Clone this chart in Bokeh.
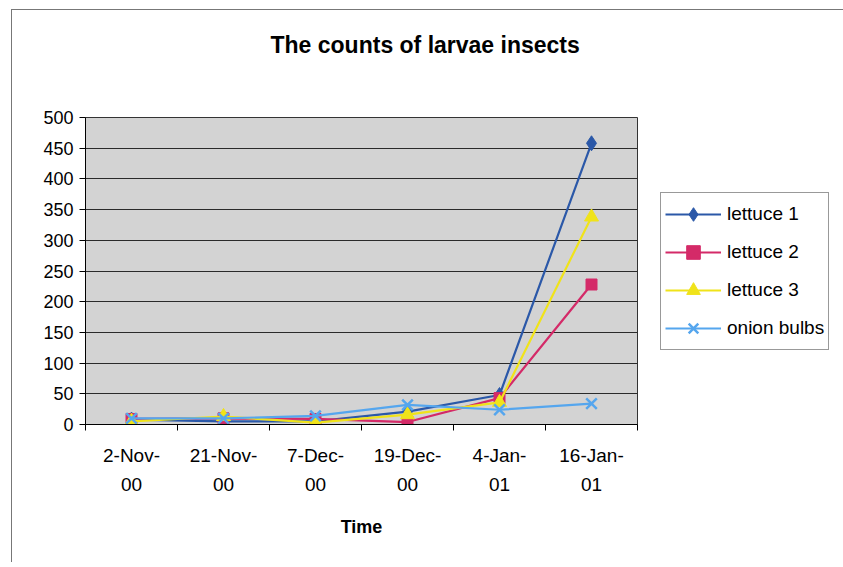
from bokeh.plotting import figure
from bokeh.models import (LinearAxis, FixedTicker, Legend, LegendItem, Range1d, Title)
from bokeh.embed import file_html
from bokeh.resources import INLINE

# ---- data ----
dates_line1 = ["2-Nov-", "21-Nov-", "7-Dec-", "19-Dec-", "4-Jan-", "16-Jan-"]
dates_line2 = ["00", "00", "00", "00", "01", "01"]
y_ticks = [0, 50, 100, 150, 200, 250, 300, 350, 400, 450, 500]
lettuce1 = [8, 5, 5, 21, 48, 458]
lettuce2 = [9, 10, 9, 4, 43, 228]
lettuce3 = [5, 13, 3, 16, 36, 338]
onion = [10, 10, 14, 32, 24, 34]
series_names = ["lettuce 1", "lettuce 2", "lettuce 3", "onion bulbs"]
title_text = "The counts of larvae insects"

FONT = "Liberation Sans"
n = len(dates_line1)
xs = [i + 0.5 for i in range(n)]

p = figure(frame_width=552, frame_height=307, output_backend="svg", toolbar_location=None,
           x_range=Range1d(0, n), y_range=Range1d(0, 500),
           x_axis_location=None,
           min_border_left=73, min_border_right=204, min_border_top=107,
           min_border_bottom=138)
p.styles = {"border-left": "1px solid #777", "border-top": "1px solid #777",
            "margin-left": "11px", "margin-top": "9px"}

p.background_fill_color = "#d3d3d3"
p.border_fill_color = "white"
p.outline_line_color = "#333333"
p.outline_line_width = 1

# real title (outermost)
p.title.text = title_text
p.title.text_font = FONT
p.title.text_font_size = "23px"
p.title.text_font_style = "bold"
p.title.align = "left"
p.title.offset = 185
p.title.standoff = 4
p.title.text_color = "black"

# blank spacer between title and plot area
spacer = Title(text=" ", text_font_size="10px", standoff=45)
p.add_layout(spacer, "above")

# y axis
yax = p.yaxis[0]
yax.ticker = FixedTicker(ticks=y_ticks)
yax.major_label_text_font = FONT
yax.major_label_text_font_size = "18px"
yax.major_label_text_color = "black"
yax.axis_line_color = "black"
yax.major_tick_line_color = "black"
yax.major_tick_out = 6
yax.major_tick_in = 0
yax.minor_tick_line_color = None
yax.major_label_standoff = 6

p.ygrid.ticker = FixedTicker(ticks=y_ticks)
p.ygrid.grid_line_color = "#2a2a2a"
p.ygrid.grid_line_width = 1
p.xgrid.visible = False

# x axes (two label lines)
ticker = FixedTicker(ticks=xs, minor_ticks=list(range(n + 1)))
ax1 = LinearAxis(ticker=ticker,
                 major_label_overrides={x: d for x, d in zip(xs, dates_line1)})
ax1.major_label_text_font = FONT
ax1.major_label_text_font_size = "19px"
ax1.major_label_text_color = "black"
ax1.axis_line_color = "black"
ax1.major_tick_line_color = None
ax1.major_tick_out = 0
ax1.major_tick_in = 0
ax1.minor_tick_line_color = "black"
ax1.minor_tick_out = 6
ax1.minor_tick_in = 0
ax1.major_label_standoff = 14
p.add_layout(ax1, "below")

ax2 = LinearAxis(ticker=FixedTicker(ticks=xs),
                 major_label_overrides={x: d for x, d in zip(xs, dates_line2)})
ax2.major_label_text_font = FONT
ax2.major_label_text_font_size = "19px"
ax2.major_label_text_color = "black"
ax2.axis_line_color = None
ax2.major_tick_line_color = None
ax2.minor_tick_line_color = None
ax2.major_label_standoff = 3
ax2.axis_label = "Time"
ax2.axis_label_text_font = FONT
ax2.axis_label_text_font_size = "18px"
ax2.axis_label_text_font_style = "bold"
ax2.axis_label_text_color = "black"
ax2.axis_label_standoff = 23
p.add_layout(ax2, "below")

# series
colors = ["#2b58a8", "#d42a68", "#f0e31a", "#55a6ee"]
markers = ["diamond", "square", "triangle", "x"]
sizes = [15, 11, 14, 15]
data = [lettuce1, lettuce2, lettuce3, onion]
items = []
for name, ys, c, m, s in zip(series_names, data, colors, markers, sizes):
    lr = p.line(xs, ys, line_color=c, line_width=2.2)
    if m == "x":
        sr = p.scatter(xs, ys, marker=m, size=s, line_color=c, line_width=2.5)
    else:
        sr = p.scatter(xs, ys, marker=m, size=s, fill_color=c, line_color=c)
    items.append(LegendItem(label=name, renderers=[lr, sr]))

legend = Legend(items=items, location="center_left")
legend.margin = 23
legend.padding = 4
legend.spacing = 4
legend.glyph_width = 56
legend.glyph_height = 34
legend.label_height = 34
legend.label_standoff = 6
legend.label_text_font = FONT
legend.label_text_font_size = "19px"
legend.label_text_color = "black"
legend.border_line_color = "#333333"
legend.border_line_width = 1
legend.background_fill_color = "white"
legend.background_fill_alpha = 1
p.add_layout(legend, "right")

open("out.html", "w").write(file_html(p, INLINE))
